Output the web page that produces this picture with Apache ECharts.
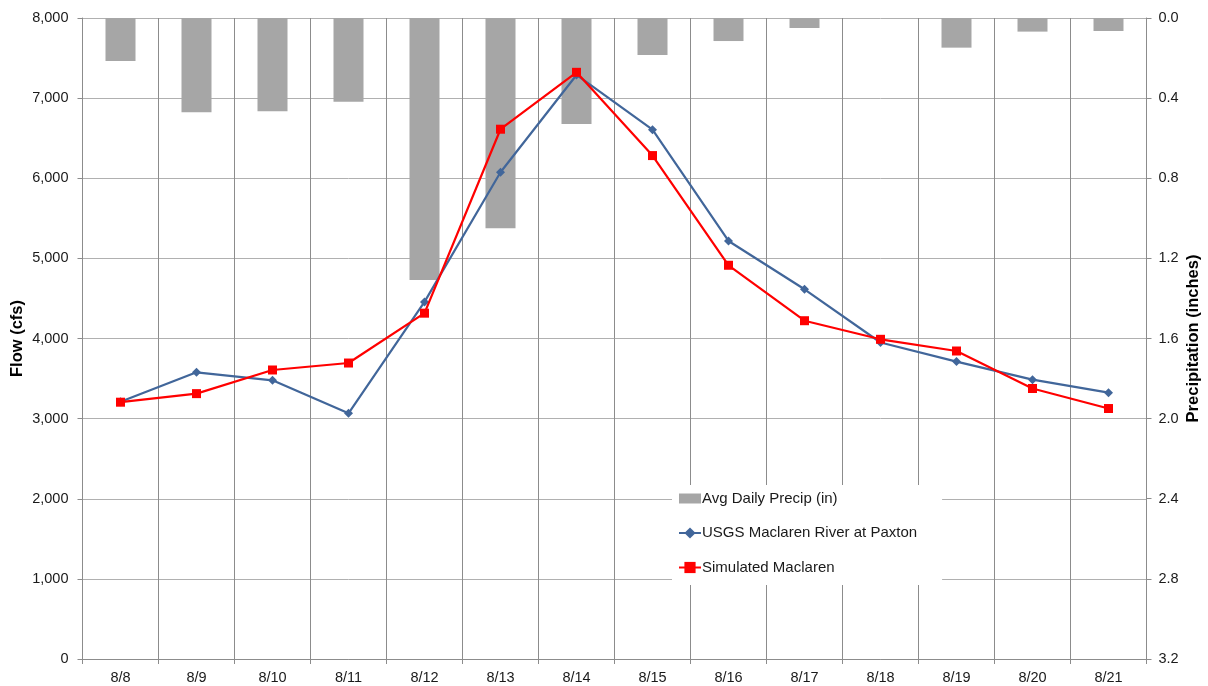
<!DOCTYPE html>
<html>
<head>
<meta charset="utf-8">
<script src="https://cdn.jsdelivr.net/npm/echarts@6/dist/echarts.min.js"></script>
<style>
  html, body { margin: 0; padding: 0; background: #fff; }
  #main { width: 1208px; height: 686px; }
</style>
</head>
<body>
<div id="main"></div>
<script>
// data
var days = ['8/8', '8/9', '8/10', '8/11', '8/12', '8/13', '8/14', '8/15', '8/16', '8/17', '8/18', '8/19', '8/20', '8/21'];
var precip = [0.215, 0.471, 0.466, 0.418, 1.308, 1.050, 0.529, 0.185, 0.115, 0.05, 0, 0.148, 0.068, 0.065];
var usgsFlow = [3211, 3578, 3478, 3066, 4457, 6075, 7289, 6606, 5217, 4614, 3950, 3712, 3486, 3324];
var simFlow = [3205, 3312, 3607, 3694, 4316, 6612, 7322, 6283, 4914, 4222, 3990, 3844, 3376, 3126];

var FONT = '"Liberation Sans", Arial, sans-serif';
var TXT = '#1a1a1a';

var myChart = echarts.init(document.getElementById('main'), null, { renderer: 'canvas' });

var option = {
  backgroundColor: '#fff',
  animation: false,
  textStyle: { fontFamily: FONT },
  grid: { left: 82.5, right: 61.5, top: 18, bottom: 27, containLabel: false, outerBoundsMode: 'none' },
  legend: {
    orient: 'vertical',
    left: 672,
    top: 485,
    backgroundColor: '#fff',
    padding: [6, 25, 10, 6],
    itemGap: 19.5,
    itemWidth: 22,
    itemHeight: 14,
    textStyle: { fontFamily: FONT, fontSize: 15, color: TXT, padding: [0, 0, 0, -4] },
    data: [
      { name: 'Avg Daily Precip (in)', icon: 'path://M0,2h22v10h-22z', itemStyle: { color: '#a6a6a6' } },
      { name: 'USGS Maclaren River at Paxton' },
      { name: 'Simulated Maclaren' }
    ]
  },
  xAxis: {
    type: 'category',
    data: days,
    boundaryGap: true,
    axisLine: { lineStyle: { color: '#8c8c8c', width: 1 } },
    axisTick: { show: true, length: 5, lineStyle: { color: '#8c8c8c' } },
    axisLabel: { color: TXT, fontSize: 14.5, fontFamily: FONT, margin: 11, interval: 0 },
    splitLine: { show: true, interval: 0, lineStyle: { color: '#8c8c8c', width: 1 } }
  },
  yAxis: [
    {
      type: 'value',
      min: 0,
      max: 8000,
      interval: 1000,
      name: 'Flow (cfs)',
      nameLocation: 'middle',
      nameGap: 57,
      nameMoveOverlap: false,
      nameTextStyle: { fontFamily: FONT, fontSize: 16.5, fontWeight: 'bold', color: '#000' },
      axisLine: { show: true, lineStyle: { color: '#8c8c8c' } },
      axisTick: { show: true, length: 5, lineStyle: { color: '#8c8c8c' } },
      axisLabel: {
        color: TXT, fontSize: 14.5, fontFamily: FONT, margin: 14,
        formatter: function (v) { return v.toLocaleString('en-US'); }
      },
      splitLine: { show: true, lineStyle: { color: '#b0b0b0', width: 1 } }
    },
    {
      type: 'value',
      min: 0,
      max: 3.2,
      interval: 0.4,
      inverse: true,
      position: 'right',
      name: 'Precipitation (inches)',
      nameLocation: 'middle',
      nameGap: 38,
      nameRotate: 90,
      nameMoveOverlap: false,
      nameTextStyle: { fontFamily: FONT, fontSize: 16.5, fontWeight: 'bold', color: '#000' },
      axisLine: { show: true, lineStyle: { color: '#8c8c8c' } },
      axisTick: { show: true, length: 5, lineStyle: { color: '#8c8c8c' } },
      axisLabel: {
        color: TXT, fontSize: 14.5, fontFamily: FONT, margin: 12,
        formatter: function (v) { return v.toFixed(1); }
      },
      splitLine: { show: false }
    }
  ],
  series: [
    {
      name: 'Avg Daily Precip (in)',
      type: 'bar',
      yAxisIndex: 1,
      barWidth: 30,
      itemStyle: { color: '#a6a6a6' },
      z: 1,
      data: precip
    },
    {
      name: 'USGS Maclaren River at Paxton',
      type: 'line',
      yAxisIndex: 0,
      symbol: 'diamond',
      symbolSize: 9,
      lineStyle: { color: '#41669a', width: 2.2 },
      itemStyle: { color: '#41669a' },
      z: 3,
      data: usgsFlow
    },
    {
      name: 'Simulated Maclaren',
      type: 'line',
      yAxisIndex: 0,
      symbol: 'rect',
      symbolSize: 9,
      lineStyle: { color: '#ff0000', width: 2.2 },
      itemStyle: { color: '#ff0000' },
      z: 4,
      data: simFlow
    }
  ]
};

myChart.setOption(option);
</script>
</body>
</html>
